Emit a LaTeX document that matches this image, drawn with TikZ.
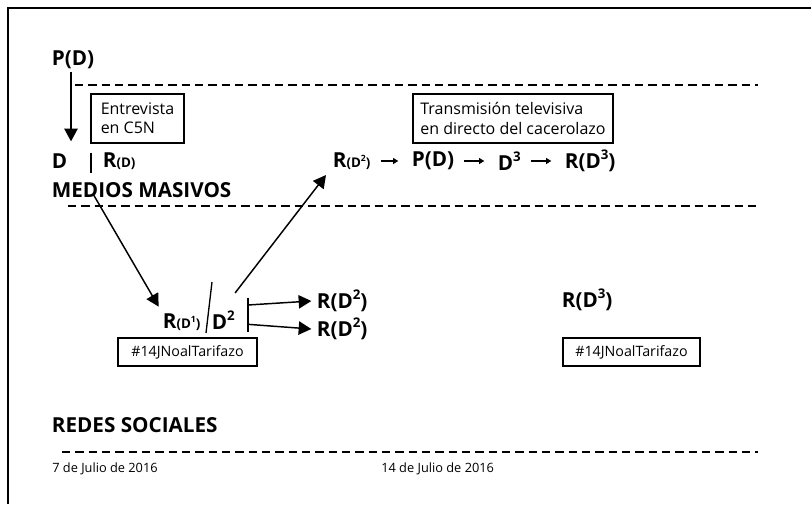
\documentclass[tikz,border=0pt]{standalone}
\usepackage{fontspec}
\setmainfont{Open Sans}
\usepackage{tikz}
\usetikzlibrary{arrows.meta}
\usetikzlibrary{positioning}
\tikzstyle{term}=[anchor=west,inner sep=2pt,font=\fontsize{15.5}{17}\selectfont\bfseries]
\tikzstyle{note}=[draw,line width=0.9pt,align=left,font=\fontsize{12}{14.5}\selectfont,inner sep=0pt]
\tikzstyle{tag}=[draw,line width=0.9pt,font=\fontsize{10.7}{12}\selectfont,inner sep=0pt,minimum height=21pt]
\tikzstyle{datum}=[anchor=west,inner sep=0pt,font=\fontsize{9.6}{11}\selectfont]
\tikzstyle{edge}=[draw,line width=1.1pt,-{Triangle[length=9.5pt,width=10pt]}]
\tikzstyle{link}=[draw,line width=1.2pt,-{Triangle[length=4pt,width=4.5pt]},shorten <=5.5pt,shorten >=8pt]
\tikzstyle{timeline}=[draw,line width=2.2pt,dash pattern=on 6.25pt off 3.75pt]
\newcommand{\up}[1]{\raisebox{0.45em}{\fontsize{10}{11}\selectfont #1}}
\newcommand{\smallup}[1]{\raisebox{0.4em}{\fontsize{6.5}{7}\selectfont #1}}
\newcommand{\rof}[1]{R{\fontsize{10}{11}\selectfont(#1)}}

\begin{document}
\begin{tikzpicture}[x=0.75pt,y=-0.75pt]
    \useasboundingbox (0,0) rectangle (811,504);
    % frame (only top and left edge show)
    \draw[line width=1.2pt] (8,504) -- (8,8) -- (811,8);

    % the three dashed separators
    \draw[timeline] (75,85) -- (758,85);
    \draw[timeline] (68,206) -- (758,206);
    \draw[timeline] (62,452) -- (758,452);

    % mass media terms
    \foreach \pos/\name/\label in {{(49,60)/pdtop/P(D)}, {(49,161)/dd/D},
    {(100,161)/rd/\rof{D}}, {(49,190)/medios/MEDIOS MASIVOS},
    {(330,161)/rdd/\rof{D\smallup{2}}}, {(409,161)/pd/P(D)},
    {(495,161)/dthree/D\up{3}}, {(562,161)/rdthree/R(D\up{3})}}
        \node[term] (\name) at \pos {\label};

    % social network terms
    \foreach \pos/\name/\label in {{(160,322)/rone/\rof{D\smallup{1}}},
    {(209,320)/dtwo/D\up{2}}, {(314,301)/rtwoa/R(D\up{2})},
    {(314,329)/rtwob/R(D\up{2})}, {(559,300)/rthree/R(D\up{3})},
    {(49,425)/redes/REDES SOCIALES}}
        \node[term] (\name) at \pos {\label};

    % boxed comments
    \node[note,minimum width=69.75pt,minimum height=36.75pt] (c5n) at (137.5,118.5)
        {Entrevista\\en C5N};
    \node[note,minimum width=150pt,minimum height=36.75pt] (tv) at (513,118.5)
        {Transmisi\'on televisiva\\en directo del cacerolazo};
    \node[tag,minimum width=104.25pt] (tagone) at (187.5,352) {\#14JNoalTarifazo};
    \node[tag,minimum width=102.75pt] (tagtwo) at (631.5,352) {\#14JNoalTarifazo};

    % dates
    \node[datum] (dateone) at (52,469) {7 de Julio de 2016};
    \node[datum] (datetwo) at (381,469) {14 de Julio de 2016};

    % dividers
    \draw[line width=1pt] (91,153) -- (91,173);
    \draw[line width=1pt] (212,282) -- (206,333);
    \coordinate (split) at (248,315);
    \draw[line width=1pt] ([yshift=13pt]split) -- ([yshift=-13pt]split);

    % arrows
    \path[edge] ([xshift=16.5pt]pdtop.south west) -- ([xshift=16.5pt,yshift=7pt]pdtop.south west |- dd.north);
    \path[edge] ([xshift=33pt,yshift=5pt]medios.south west) -- ([xshift=-1pt,yshift=3pt]rone.north west);
    \path[edge] ([xshift=-2pt,yshift=11pt]dtwo.north east) -- ([xshift=-3pt,yshift=-2pt]rdd.south west);
    \path[edge] ([yshift=7.5pt]split) -- ([xshift=-2pt]rtwoa.west);
    \path[edge] ([yshift=-7pt]split) -- ([xshift=-2pt]rtwob.west);
    \foreach \source/\dest in {rdd/pd, pd/dthree, dthree/rdthree}
        \path[link] (\source) -- (\dest);
\end{tikzpicture}
\end{document}
